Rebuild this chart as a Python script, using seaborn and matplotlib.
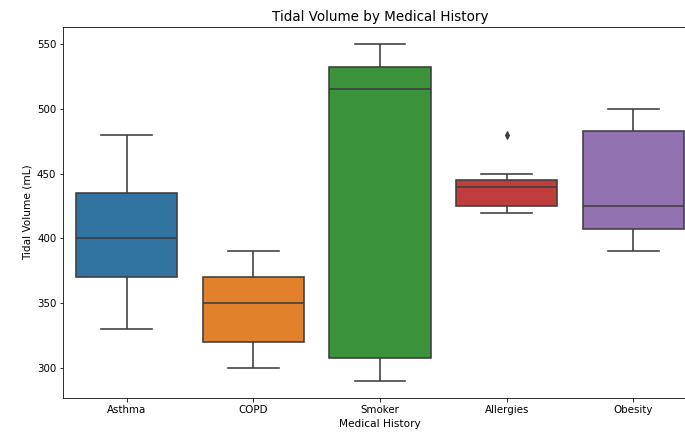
import pandas as pd
import matplotlib
matplotlib.use("Agg")
from matplotlib import pyplot as plt
import seaborn as sb

# data
categories = ["Asthma", "COPD", "Smoker", "Allergies", "Obesity"]
asthma = [330, 370, 400, 435, 480]
copd = [300, 320, 350, 370, 390]
smoker = [290, 300, 315, 515, 530, 535, 550]
allergies = [420, 420, 430, 440, 440, 450, 480]
obesity = [390, 400, 415, 425, 480, 485, 500]

values = [asthma, copd, smoker, allergies, obesity]
rows = []
for cat, vals in zip(categories, values):
    for v in vals:
        rows.append({"Medical History": cat, "Tidal Volume (mL)": v})
df = pd.DataFrame(rows)

fig = plt.figure(figsize=(685 / 72, 434 / 72), dpi=72)
# axes run a little past the right edge, as in the cropped reference
ax = fig.add_axes([63.3 / 685, 36 / 434, 633.4 / 685, 371 / 434])

sb.boxplot(data=df, x="Medical History", y="Tidal Volume (mL)", hue="Medical History",
           order=categories, palette="tab10", saturation=0.75, linecolor="#3d3d3d",
           linewidth=1.6, legend=False, ax=ax,
           flierprops={"marker": "d", "markerfacecolor": "#3d3d3d",
                       "markeredgecolor": "#3d3d3d", "markersize": 5})

ax.set_title("Tidal Volume by Medical History", fontsize=13.5)
ax.set_xlabel("Medical History", fontsize=10.5)
ax.set_ylabel("Tidal Volume (mL)", fontsize=10.5)
ax.tick_params(labelsize=10.3)

plt.savefig("out.png", dpi=72)
plt.close()
